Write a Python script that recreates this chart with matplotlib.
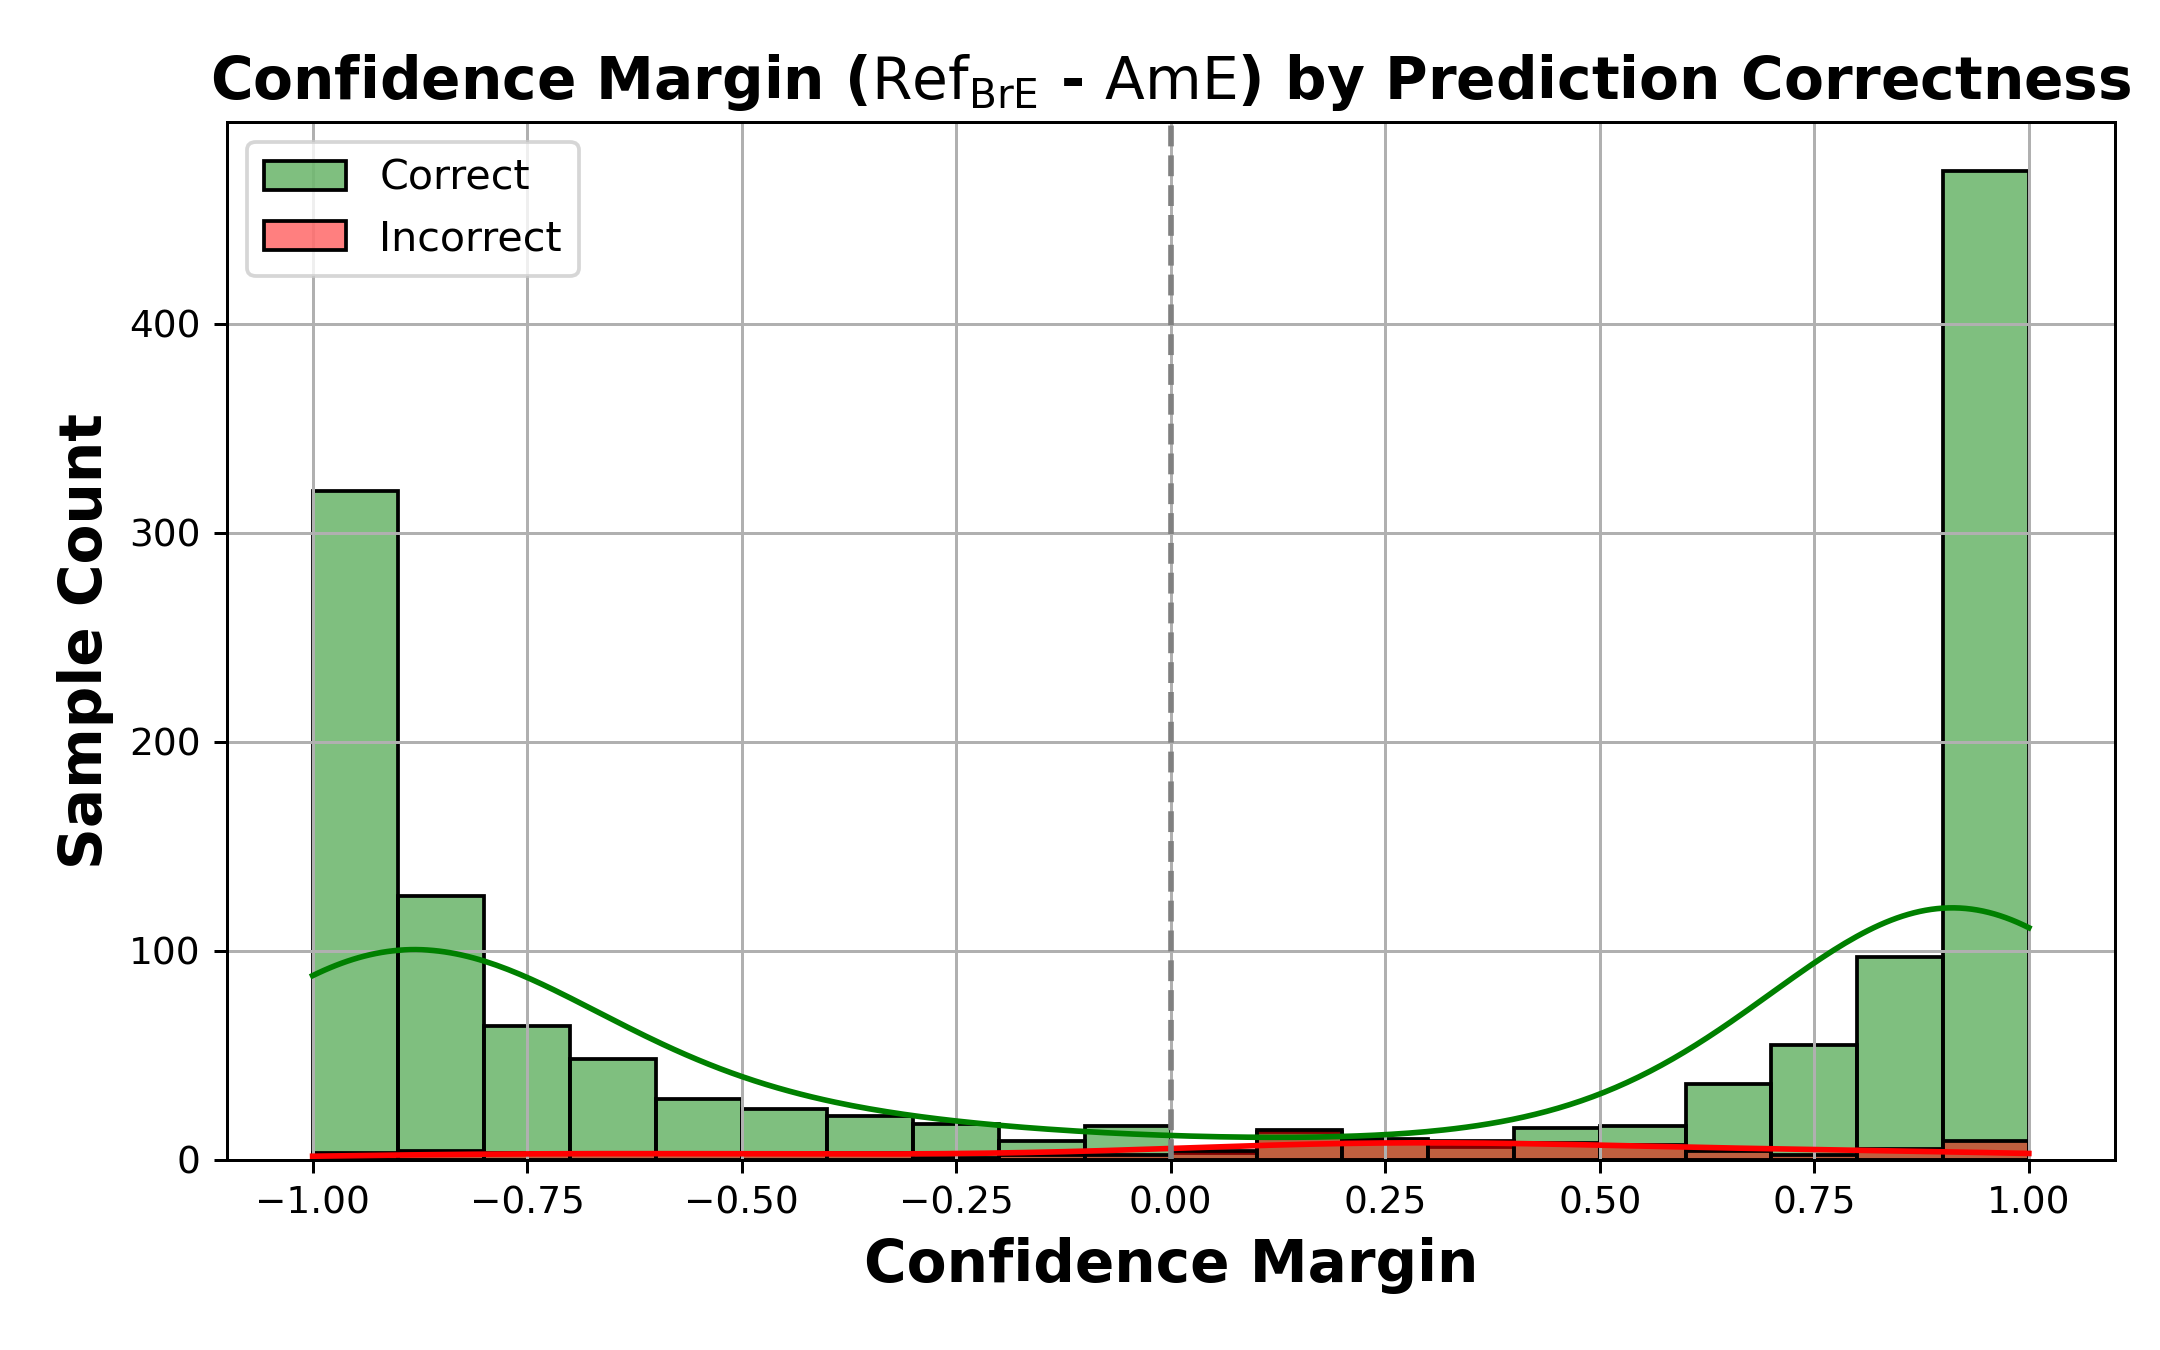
import numpy as np
import matplotlib
matplotlib.use("Agg")
import matplotlib.pyplot as plt
from matplotlib.colors import to_rgba

# histogram counts per bin (20 bins over [-1, 1])
bin_edges = np.linspace(-1, 1, 21)
correct_counts = [320, 126, 64, 48, 29, 24, 21, 17, 9, 16,
                  3, 13, 9, 6, 15, 16, 36, 55, 97, 473]
incorrect_counts = [3, 4, 3, 3, 3, 3, 3, 1, 2, 2,
                    4, 14, 10, 9, 8, 7, 4, 2, 5, 9]
labels = ["Correct", "Incorrect"]
colors = ["green", "red"]


def weighted_kde(centers, counts, grid, width, bw_adjust=1.0):
    # gaussian kde on binned data, scott bandwidth, scaled to counts
    w = np.asarray(counts, dtype=float)
    n = w.sum()
    mean = (centers * w).sum() / n
    std = np.sqrt(((centers - mean) ** 2 * w).sum() / n)
    h = std * n ** (-1 / 5) * bw_adjust
    z = (grid[:, None] - centers[None, :]) / h
    dens = (w * np.exp(-0.5 * z ** 2)).sum(axis=1) / (n * h * np.sqrt(2 * np.pi))
    return dens * n * width


fig, ax = plt.subplots(figsize=(8, 5), dpi=270)
fig.subplots_adjust(left=0.105, right=0.979, bottom=0.141, top=0.910)

width = bin_edges[1] - bin_edges[0]
centers = (bin_edges[:-1] + bin_edges[1:]) / 2
grid = np.linspace(-1, 1, 300)

for counts, lab, col in zip([correct_counts, incorrect_counts], labels, colors):
    ax.bar(bin_edges[:-1], counts, width=width, align="edge",
           facecolor=to_rgba(col, 0.5), edgecolor="black", linewidth=1.0, label=lab)
for counts, col in zip([correct_counts, incorrect_counts], colors):
    ax.plot(grid, weighted_kde(centers, counts, grid, width, 1.03), color=col, linewidth=1.5)

ax.axvline(0, color="gray", linestyle="--", linewidth=1.5)
ax.set_xticks(np.arange(-1, 1.01, 0.25))
ax.set_title(r"Confidence Margin ($\mathrm{Ref}_{\mathrm{BrE}}$ - $\mathrm{AmE}$) by Prediction Correctness",
             fontsize=15.5, fontweight="bold")
ax.set_xlabel("Confidence Margin", fontsize=15.5, fontweight="bold")
ax.set_ylabel("Sample Count", fontsize=15.5, fontweight="bold")
ax.legend(loc="upper left", fontsize=11)
ax.grid(True)

plt.savefig("out.png", dpi=270)
